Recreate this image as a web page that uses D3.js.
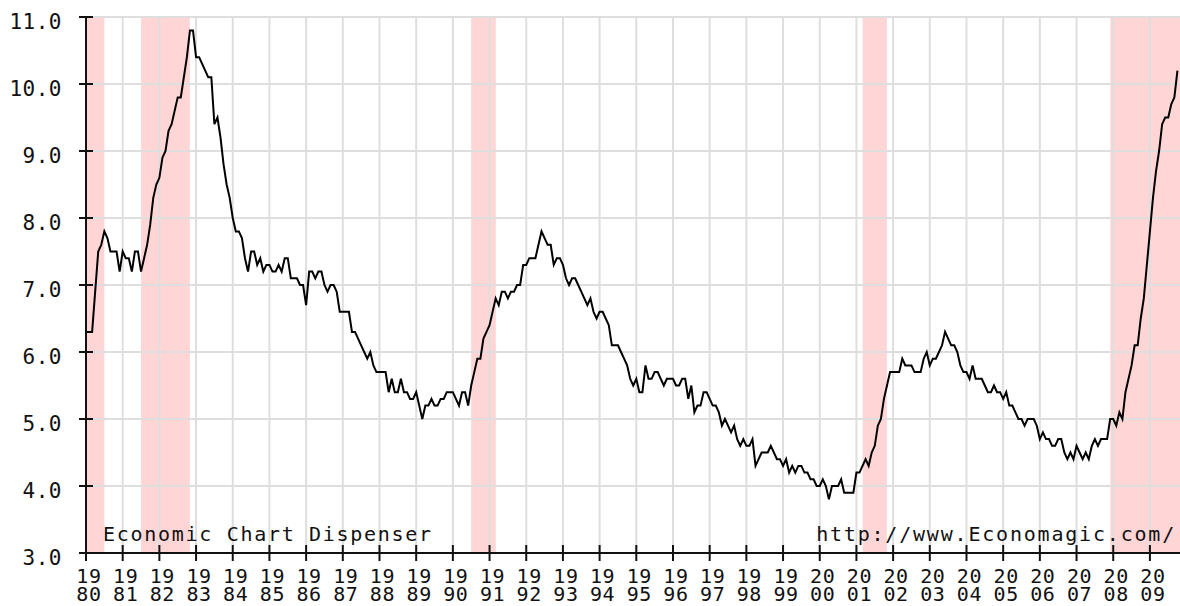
<!DOCTYPE html>
<html>
<head>
<meta charset="utf-8">
<script src="https://cdn.jsdelivr.net/npm/d3@7"></script>
<style>
  body { margin: 0; background: #fff; }
  text { font-family: "DejaVu Sans Mono", monospace; fill: #111; }
</style>
</head>
<body>
<div id="chart"></div>
<script>
// monthly unemployment rate, Jan 1980 .. Oct 2009
const startYear = 1980;
const rate = [
  6.3,6.3,6.3,6.9,7.5,7.6,7.8,7.7,7.5,7.5,7.5,7.2,
  7.5,7.4,7.4,7.2,7.5,7.5,7.2,7.4,7.6,7.9,8.3,8.5,
  8.6,8.9,9.0,9.3,9.4,9.6,9.8,9.8,10.1,10.4,10.8,10.8,
  10.4,10.4,10.3,10.2,10.1,10.1,9.4,9.5,9.2,8.8,8.5,8.3,
  8.0,7.8,7.8,7.7,7.4,7.2,7.5,7.5,7.3,7.4,7.2,7.3,
  7.3,7.2,7.2,7.3,7.2,7.4,7.4,7.1,7.1,7.1,7.0,7.0,
  6.7,7.2,7.2,7.1,7.2,7.2,7.0,6.9,7.0,7.0,6.9,6.6,
  6.6,6.6,6.6,6.3,6.3,6.2,6.1,6.0,5.9,6.0,5.8,5.7,
  5.7,5.7,5.7,5.4,5.6,5.4,5.4,5.6,5.4,5.4,5.3,5.3,
  5.4,5.2,5.0,5.2,5.2,5.3,5.2,5.2,5.3,5.3,5.4,5.4,
  5.4,5.3,5.2,5.4,5.4,5.2,5.5,5.7,5.9,5.9,6.2,6.3,
  6.4,6.6,6.8,6.7,6.9,6.9,6.8,6.9,6.9,7.0,7.0,7.3,
  7.3,7.4,7.4,7.4,7.6,7.8,7.7,7.6,7.6,7.3,7.4,7.4,
  7.3,7.1,7.0,7.1,7.1,7.0,6.9,6.8,6.7,6.8,6.6,6.5,
  6.6,6.6,6.5,6.4,6.1,6.1,6.1,6.0,5.9,5.8,5.6,5.5,
  5.6,5.4,5.4,5.8,5.6,5.6,5.7,5.7,5.6,5.5,5.6,5.6,
  5.6,5.5,5.5,5.6,5.6,5.3,5.5,5.1,5.2,5.2,5.4,5.4,
  5.3,5.2,5.2,5.1,4.9,5.0,4.9,4.8,4.9,4.7,4.6,4.7,
  4.6,4.6,4.7,4.3,4.4,4.5,4.5,4.5,4.6,4.5,4.4,4.4,
  4.3,4.4,4.2,4.3,4.2,4.3,4.3,4.2,4.2,4.1,4.1,4.0,
  4.0,4.1,4.0,3.8,4.0,4.0,4.0,4.1,3.9,3.9,3.9,3.9,
  4.2,4.2,4.3,4.4,4.3,4.5,4.6,4.9,5.0,5.3,5.5,5.7,
  5.7,5.7,5.7,5.9,5.8,5.8,5.8,5.7,5.7,5.7,5.9,6.0,
  5.8,5.9,5.9,6.0,6.1,6.3,6.2,6.1,6.1,6.0,5.8,5.7,
  5.7,5.6,5.8,5.6,5.6,5.6,5.5,5.4,5.4,5.5,5.4,5.4,
  5.3,5.4,5.2,5.2,5.1,5.0,5.0,4.9,5.0,5.0,5.0,4.9,
  4.7,4.8,4.7,4.7,4.6,4.6,4.7,4.7,4.5,4.4,4.5,4.4,
  4.6,4.5,4.4,4.5,4.4,4.6,4.7,4.6,4.7,4.7,4.7,5.0,
  5.0,4.9,5.1,5.0,5.4,5.6,5.8,6.1,6.1,6.5,6.8,7.3,
  7.8,8.3,8.7,9.0,9.4,9.5,9.5,9.7,9.8,10.2
];

// recessions as [start, end] in fractional years
const recessions = [
  [1980.0, 1980.5],
  [1981.5, 1982.83],
  [1990.5, 1991.17],
  [2001.17, 2001.83],
  [2007.92, 2009.82]
];

const years = d3.range(1980, 2010);
const yTicks = [3, 4, 5, 6, 7, 8, 9, 10, 11];

const W = 1180, H = 606;
const m = { left: 86, right: 0, top: 17, bottom: 53 };

const svg = d3.select("#chart").append("svg")
  .attr("width", W)
  .attr("height", H);

let x = d3.scaleLinear().domain([1980, 2009.82]).range([m.left, W - m.right]);
let y = d3.scaleLinear().domain([3, 11]).range([H - m.bottom, m.top]);

// recession bands
svg.append("g").selectAll("rect")
  .data(recessions)
  .enter().append("rect")
  .attr("x", d => x(d[0]))
  .attr("y", y(11))
  .attr("width", d => x(d[1]) - x(d[0]))
  .attr("height", y(3) - y(11))
  .attr("fill", "#ffd5d5");

// grid
let grid = svg.append("g")
  .attr("stroke", "#dedede")
  .attr("stroke-width", 2);

grid.selectAll(".vgrid")
  .data(years.slice(1))
  .enter().append("line")
  .attr("x1", d => x(d)).attr("x2", d => x(d))
  .attr("y1", y(11)).attr("y2", y(3));

grid.selectAll(".hgrid")
  .data(yTicks.slice(1))
  .enter().append("line")
  .attr("x1", x(1980)).attr("x2", W)
  .attr("y1", d => y(d)).attr("y2", d => y(d));

// watermark texts
svg.append("text")
  .attr("x", 103)
  .attr("y", y(3) - 12)
  .attr("font-size", 20)
  .attr("letter-spacing", 1.7)
  .text("Economic Chart Dispenser");

svg.append("text")
  .attr("x", 1176)
  .attr("y", y(3) - 12)
  .attr("font-size", 20)
  .attr("letter-spacing", 1.8)
  .style("text-anchor", "end")
  .text("http://www.Economagic.com/");

// the series
const line = d3.line()
  .x((d, i) => x(startYear + i / 12))
  .y(d => y(d));

svg.append("path")
  .datum(rate)
  .attr("fill", "none")
  .attr("stroke", "#000")
  .attr("stroke-width", 2)
  .attr("d", line);

// axes
let axes = svg.append("g").attr("stroke", "#111").attr("stroke-width", 2);

axes.append("line")
  .attr("x1", x(1980)).attr("x2", x(1980))
  .attr("y1", y(11) - 1).attr("y2", y(3));
axes.append("line")
  .attr("x1", x(1980)).attr("x2", W)
  .attr("y1", y(3)).attr("y2", y(3));

axes.selectAll(".ytick")
  .data(yTicks)
  .enter().append("line")
  .attr("x1", x(1980) - 7).attr("x2", x(1980) + 7)
  .attr("y1", d => y(d)).attr("y2", d => y(d));

axes.selectAll(".xtick")
  .data(years)
  .enter().append("line")
  .attr("x1", d => x(d)).attr("x2", d => x(d))
  .attr("y1", y(3) - 8).attr("y2", y(3) + 8);

// tick labels
svg.selectAll(".ylabel")
  .data(yTicks)
  .enter().append("text")
  .attr("x", 62)
  .attr("y", d => y(d) + 12)
  .attr("font-size", 21)
  .attr("letter-spacing", 0.5)
  .style("text-anchor", "end")
  .text(d => d.toFixed(1));

// two-line year labels: century on top, year below
svg.selectAll(".xlabel1")
  .data(years)
  .enter().append("text")
  .attr("x", d => x(d) + 3)
  .attr("y", y(3) + 30)
  .attr("font-size", 20)
  .attr("letter-spacing", 0.6)
  .style("text-anchor", "middle")
  .text(d => String(d).slice(0, 2));

svg.selectAll(".xlabel2")
  .data(years)
  .enter().append("text")
  .attr("x", d => x(d) + 3)
  .attr("y", y(3) + 48)
  .attr("font-size", 20)
  .attr("letter-spacing", 0.6)
  .style("text-anchor", "middle")
  .text(d => String(d).slice(2));
</script>
</body>
</html>
